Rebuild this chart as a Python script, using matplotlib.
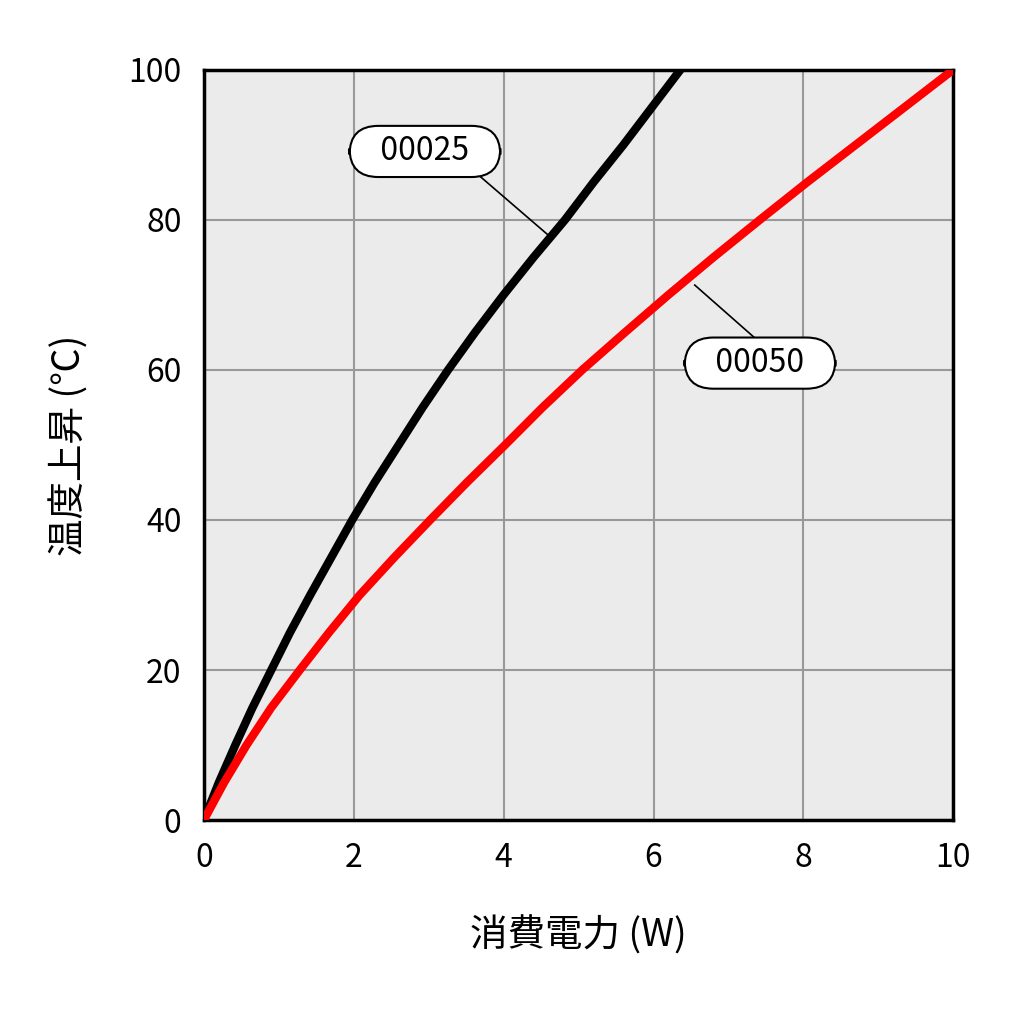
import matplotlib
matplotlib.use('Agg')
import matplotlib.pyplot as plt

plt.rcParams['font.family'] = ['Noto Sans CJK JP', 'DejaVu Sans']

# 温度上昇 (℃)
temps = [0, 5, 10, 15, 20, 25, 30, 35, 40, 45, 50, 55, 60, 65, 70, 75, 80, 85, 90, 95, 100]
# 00025 消費電力
x25 = [0, 0.2, 0.42, 0.65, 0.9, 1.15, 1.42, 1.7, 1.98, 2.28, 2.6, 2.92, 3.26, 3.62, 4.0, 4.4, 4.82, 5.2, 5.6, 5.98, 6.36]
# 00050 消費電力
x50 = [0, 0.27, 0.57, 0.9, 1.28, 1.67, 2.08, 2.54, 3.02, 3.51, 4.02, 4.52, 5.05, 5.62, 6.2, 6.8, 7.42, 8.05, 8.7, 9.35, 10]

fig = plt.figure(figsize=(10.24, 10.24), dpi=100)
fig.patch.set_facecolor('white')
ax = fig.add_axes([0.199, 0.199, 0.732, 0.733])
ax.set_facecolor('#ebebeb')
ax.set_xlim(0, 10)
ax.set_ylim(0, 100)
ax.set_xticks(range(0, 11, 2))
ax.set_yticks(range(0, 101, 20))
ax.grid(True, color='#999999', linewidth=1.5)
ax.set_axisbelow(True)
for s in ax.spines.values():
    s.set_linewidth(2.5)
    s.set_color('black')
ax.tick_params(length=0, labelsize=23, pad=16)

ax.plot(x25, temps, color='black', linewidth=6, solid_capstyle='round', solid_joinstyle='round', zorder=3)
ax.plot(x50, temps, color='#ff0000', linewidth=6, solid_capstyle='round', solid_joinstyle='round', zorder=3)

# leader lines
ax.plot([3.66, 4.59], [86.0, 78.0], color='black', linewidth=1.2, zorder=4)
ax.plot([6.55, 7.38], [71.3, 64.0], color='black', linewidth=1.2, zorder=4)

box = dict(boxstyle='round,pad=0.3,rounding_size=0.9', fc='white', ec='black', lw=1.5)
ax.text(2.95, 89.1, '   00025   ', fontsize=23, ha='center', va='center', bbox=box, zorder=5)
ax.text(7.42, 60.9, '   00050   ', fontsize=23, ha='center', va='center', bbox=box, zorder=5)

ax.set_xlabel('消費電力 (W)', fontsize=27, labelpad=30)
ax.set_ylabel('温度上昇 (℃)', fontsize=27, labelpad=28)

fig.savefig('out.png', dpi=100)
